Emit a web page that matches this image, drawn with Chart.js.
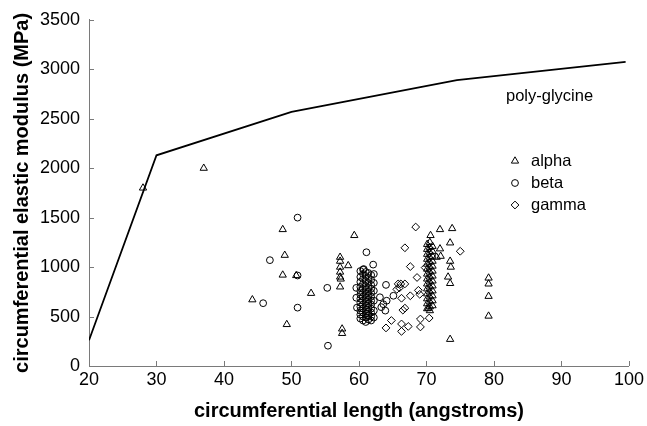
<!DOCTYPE html>
<html><head><meta charset="utf-8">
<script src="https://cdn.jsdelivr.net/npm/chart.js@4/dist/chart.umd.min.js"></script>
<style>html,body{margin:0;padding:0;background:#fff;} #wrap{width:647px;height:426px;position:relative;}</style>
</head><body><div id="wrap"><canvas id="c" width="647" height="426"></canvas></div>
<script>
const xTicks = [20, 30, 40, 50, 60, 70, 80, 90, 100];
const yTicks = [0, 500, 1000, 1500, 2000, 2500, 3000, 3500];

const lineX = [20, 30, 50, 74.5, 99.5];
const lineY = [260, 2130, 2570, 2890, 3075];

const alphaPoints = [
  [28,1800],[37,2000],[44.2,670],[48.7,1380],[49.0,1120],[48.7,920],[50.7,915],[49.3,420],[52.9,735],
  [57.2,1100],[57.2,1060],[57.2,1000],[57.2,950],[57.2,900],[57.3,880],[57.2,800],[58.4,1015],[59.3,1320],[57.5,375],[57.5,330],
  [70.1,1230],[70.1,1180],[70.1,1130],[70.1,1080],[70.1,1030],[70.1,980],[70.1,930],[70.1,880],[70.1,830],[70.1,780],[70.1,730],[70.1,680],[70.1,630],[70.1,580],
  [70.5,1250],[70.5,1200],[70.5,1150],[70.5,1100],[70.5,1050],[70.5,1000],[70.5,950],[70.5,900],[70.5,850],[70.5,800],[70.5,750],[70.5,700],[70.5,650],[70.5,600],[70.5,560],
  [70.9,1210],[70.9,1160],[70.9,1110],[70.9,1060],[70.9,1010],[70.9,960],[70.9,910],[70.9,860],[70.9,810],[70.9,760],[70.9,710],[70.9,660],[70.9,610],
  [70.6,1320],[70.3,585],
  [72.0,1380],[73.8,1390],[73.5,1245],[72.0,1185],[72.1,1110],[71.5,1100],[73.5,1060],[73.6,1000],[73.2,900],[73.5,835],[73.5,270],
  [79.2,890],[79.2,830],[79.2,705],[79.2,505]
];

const betaPoints = [
  [50.9,1500],[46.8,1070],[50.9,915],[45.8,635],[50.9,590],[55.3,790],[55.4,205],[61.1,1150],[62.1,1025],[64.0,820],[65.1,710],
  [60.2,960],[60.2,900],[60.2,850],[60.2,800],[60.2,760],[60.2,720],[60.2,680],[60.2,640],[60.2,600],[60.2,560],[60.2,520],[60.2,480],
  [60.6,975],[60.6,930],[60.6,880],[60.6,830],[60.6,780],[60.6,740],[60.6,700],[60.6,660],[60.6,620],[60.6,580],[60.6,540],[60.6,500],[60.6,460],
  [61.0,950],[61.0,910],[61.0,860],[61.0,810],[61.0,770],[61.0,730],[61.0,690],[61.0,650],[61.0,610],[61.0,570],[61.0,530],[61.0,490],[61.0,445],
  [61.4,940],[61.4,890],[61.4,840],[61.4,790],[61.4,750],[61.4,710],[61.4,670],[61.4,630],[61.4,590],[61.4,550],[61.4,510],[61.4,470],
  [61.8,920],[61.8,870],[61.8,820],[61.8,780],[61.8,740],[61.8,700],[61.8,660],[61.8,620],[61.8,580],[61.8,540],[61.8,500],[61.8,460],
  [62.2,930],[62.2,840],[62.2,760],[62.2,660],[62.2,560],[62.2,490],
  [59.6,790],[59.6,690],[59.7,590],[63.1,695],[63.6,625],[64.1,660],[63.3,595],[63.9,560],[60.7,980]
];

const gammaPoints = [
  [68.4,1405],[66.8,1195],[75.0,1160],[67.6,1005],[69.8,995],[68.6,895],[65.6,775],
  [65.8,830],[66.2,830],[66.8,830],[66.0,790],[68.8,765],[69.0,725],[67.6,710],[66.3,685],
  [66.8,585],[66.5,565],[69.1,475],[70.4,485],[64.8,460],[64.0,385],[66.3,425],[67.3,400],[66.3,350],[69.1,395]
];

const seriesNames = ['alpha', 'beta', 'gamma'];
const lineLabel = 'poly-glycine';
const xTitle = 'circumferential length (angstroms)';
const yTitle = 'circumferential elastic modulus (MPa)';

const FONT = "'Liberation Sans', Arial, Helvetica, sans-serif";
const AXIS_GRAY = '#7a7a7a';
const toXY = arr => arr.map(p => ({x: p[0], y: p[1]}));

const styles = [
  {pointStyle: 'triangle', radius: 4.2},
  {pointStyle: 'circle', radius: 3.4},
  {pointStyle: 'rectRot', radius: 3.9}
];

function drawShape(ctx, style, r, x, y) {
  if (Chart.helpers && Chart.helpers.drawPoint) {
    Chart.helpers.drawPoint(ctx, {pointStyle: style, radius: r, rotation: 0, borderWidth: 1}, x, y);
    return;
  }
  ctx.beginPath();
  if (style === 'circle') ctx.arc(x, y, r, 0, Math.PI * 2);
  else if (style === 'triangle') {
    for (let i = 0; i < 3; i++) {
      const a = i * 2 * Math.PI / 3;
      const px = x + Math.sin(a) * r, py = y - Math.cos(a) * r;
      i ? ctx.lineTo(px, py) : ctx.moveTo(px, py);
    }
    ctx.closePath();
  } else {
    ctx.moveTo(x, y - r); ctx.lineTo(x + r, y); ctx.lineTo(x, y + r); ctx.lineTo(x - r, y); ctx.closePath();
  }
  ctx.stroke();
}

const overlay = {
  id: 'overlay',
  afterDraw(chart) {
    const ctx = chart.ctx;
    const xs = chart.scales.x, ys = chart.scales.y;
    const area = chart.chartArea;
    ctx.save();
    ctx.strokeStyle = AXIS_GRAY;
    ctx.lineWidth = 1;
    ctx.beginPath();
    xTicks.forEach(v => {
      const px = Math.round(xs.getPixelForValue(v)) + 0.5;
      ctx.moveTo(px, area.bottom); ctx.lineTo(px, area.bottom - 5);
    });
    yTicks.forEach(v => {
      const py = Math.round(ys.getPixelForValue(v)) + 0.5;
      ctx.moveTo(area.left, py); ctx.lineTo(area.left + 5, py);
    });
    ctx.stroke();
    ctx.fillStyle = '#000';
    ctx.font = '16.5px ' + FONT;
    ctx.textBaseline = 'middle';
    ctx.textAlign = 'left';
    ctx.fillText(lineLabel, 506, 96);
    seriesNames.forEach((name, i) => {
      const y = 161 + i * 22;
      ctx.strokeStyle = '#000';
      ctx.fillStyle = 'rgba(0,0,0,0)';
      ctx.lineWidth = 1;
      drawShape(ctx, styles[i].pointStyle, styles[i].radius, 515, y);
      ctx.fillStyle = '#000';
      ctx.fillText(name, 531, y);
    });
    ctx.restore();
  }
};

const scatterDs = (data, i) => ({
  type: 'scatter',
  label: seriesNames[i],
  data: toXY(data),
  pointStyle: styles[i].pointStyle,
  pointRadius: styles[i].radius,
  pointHoverRadius: styles[i].radius,
  borderColor: '#000',
  backgroundColor: 'rgba(0,0,0,0)',
  borderWidth: 1,
  clip: false
});

new Chart(document.getElementById('c'), {
  data: {
    datasets: [
      {
        type: 'line',
        label: lineLabel,
        data: lineX.map((x, i) => ({x: x, y: lineY[i]})),
        borderColor: '#000',
        borderWidth: 1.8,
        pointRadius: 0,
        tension: 0,
        fill: false
      },
      scatterDs(alphaPoints, 0),
      scatterDs(betaPoints, 1),
      scatterDs(gammaPoints, 2)
    ]
  },
  options: {
    responsive: false,
    animation: false,
    devicePixelRatio: 1,
    layout: {padding: {left: 0, top: 16, right: 18, bottom: 0}},
    plugins: {legend: {display: false}, tooltip: {enabled: false}},
    scales: {
      x: {
        type: 'linear',
        min: xTicks[0], max: xTicks[xTicks.length - 1],
        afterBuildTicks: s => { s.ticks = xTicks.map(v => ({value: v})); },
        ticks: {color: '#000', font: {family: FONT, size: 18}, padding: 3, maxRotation: 0, autoSkip: false, callback: v => String(v)},
        grid: {display: false, drawTicks: false},
        border: {display: true, color: AXIS_GRAY, width: 1},
        title: {display: true, text: xTitle, color: '#000', font: {family: FONT, size: 20, weight: 'bold'}, padding: {top: 0, bottom: 3}},
        afterFit: s => { s.height = 60; }
      },
      y: {
        type: 'linear',
        min: yTicks[0], max: yTicks[yTicks.length - 1],
        afterBuildTicks: s => { s.ticks = yTicks.map(v => ({value: v})); },
        ticks: {color: '#000', font: {family: FONT, size: 18}, padding: 9, autoSkip: false, callback: v => String(v)},
        grid: {display: false, drawTicks: false},
        border: {display: true, color: AXIS_GRAY, width: 1},
        title: {display: true, text: yTitle, color: '#000', font: {family: FONT, size: 20, weight: 'bold'}, padding: {top: 10, bottom: 0}},
        afterFit: s => { s.width = 89; }
      }
    }
  },
  plugins: [overlay]
});
</script>
</body></html>
